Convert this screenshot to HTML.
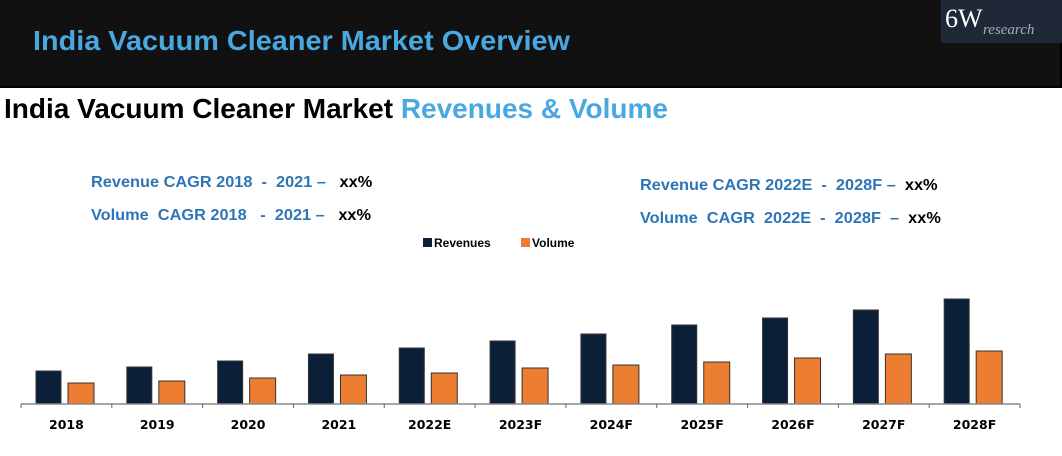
<!DOCTYPE html>
<html><head><meta charset="utf-8"><style>
body{margin:0;width:1062px;height:456px;background:#fff;position:relative;overflow:hidden;font-family:"Liberation Sans",sans-serif}
.hdr{position:absolute;left:0;top:0;width:1060px;height:86px;background:#111;border-right:2px solid #000;border-bottom:2px solid #000}
.t1{position:absolute;left:33px;top:25px;font-size:28px;font-weight:bold;color:#4aa8e0;transform:scaleX(1.03);transform-origin:left;white-space:nowrap}
.logo{position:absolute;left:941px;top:0;width:121px;height:43px;background:#1e2836;color:#fff;font-family:"Liberation Serif",serif}
.t2{position:absolute;left:4px;top:93px;font-size:28px;font-weight:bold;color:#000;transform:scaleX(1.0);transform-origin:left;white-space:nowrap}
.c{position:absolute;font-size:16px;font-weight:bold;color:#2e75b6;white-space:nowrap;transform:scaleX(1.02);transform-origin:left}
.c b{color:#000}
</style></head><body>
<div class="hdr">
<div class="t1">India Vacuum Cleaner Market Overview</div>
</div>
<div class="logo"><span style="position:absolute;left:4px;top:4px;font-size:26px">6W</span><span style="position:absolute;left:42px;top:22px;font-size:15px;font-style:italic;color:#aab">research</span></div>
<div class="t2">India Vacuum Cleaner Market <span style="color:#4aa8e0">Revenues &amp; Volume</span></div>
<div class="c" style="left:91px;top:174px">Revenue CAGR 2018 &nbsp;- &nbsp;2021 – &nbsp;&nbsp;<b>xx%</b></div>
<div class="c" style="left:91px;top:207px">Volume &nbsp;CAGR 2018 &nbsp;&nbsp;- &nbsp;2021 – &nbsp;&nbsp;<b>xx%</b></div>
<div class="c" style="left:640px;top:177px">Revenue CAGR 2022E &nbsp;- &nbsp;2028F – &nbsp;<b>xx%</b></div>
<div class="c" style="left:640px;top:210px">Volume &nbsp;CAGR &nbsp;2022E &nbsp;- &nbsp;2028F &nbsp;– &nbsp;<b>xx%</b></div>
<svg id="ch" width="1062" height="456" style="position:absolute;left:0;top:0"></svg>
<script>
const categories=["2018","2019","2020","2021","2022E","2023F","2024F","2025F","2026F","2027F","2028F"];
const revenues=[33,37,43,50,56,63,70,79,86,94,105];
const volume=[21,23,26,29,31,36,39,42,46,50,53];
const NS="http://www.w3.org/2000/svg";
const svg=document.getElementById('ch');
const x0=21,x1=1020,base=404,step=(x1-x0)/categories.length;
const y=v=>base-v;
function mk(t,a){const e=document.createElementNS(NS,t);for(const k in a)e.setAttribute(k,a[k]);svg.appendChild(e);return e;}
categories.forEach((c,i)=>{
 const cx=x0+step*i;
 let r=mk('rect',{x:cx+15,y:y(revenues[i]),width:25,height:revenues[i],fill:'#0b1f38',stroke:'#333','stroke-width':1});
 
 
 let o=mk('rect',{x:cx+47,y:y(volume[i]),width:26,height:volume[i],fill:'#ed7d31',stroke:'#333','stroke-width':1});
 
 
 let t=mk('text',{x:cx+step/2,y:429,'text-anchor':'middle','font-size':12.5,'font-weight':'bold','font-family':'DejaVu Sans, sans-serif',fill:'#000'});
 t.textContent=c;
 
 
});
let ax=mk('line',{x1:x0,x2:x1,y1:base,y2:base,stroke:'#888','stroke-width':1.5});


for(let i=0;i<=categories.length;i++){mk('line',{x1:x0+step*i,x2:x0+step*i,y1:base,y2:base+4,stroke:'#666'});}
let l1=mk('rect',{x:423,y:238,width:9,height:9,fill:'#0b1f38'});


let lt1=mk('text',{x:434,y:247,'font-size':12,'font-weight':'bold','font-family':'Liberation Sans, sans-serif'});lt1.textContent='Revenues';
let l2=mk('rect',{x:521,y:238,width:9,height:9,fill:'#ed7d31'});


let lt2=mk('text',{x:532,y:247,'font-size':12,'font-weight':'bold','font-family':'Liberation Sans, sans-serif'});lt2.textContent='Volume';
</script>
</body></html>
